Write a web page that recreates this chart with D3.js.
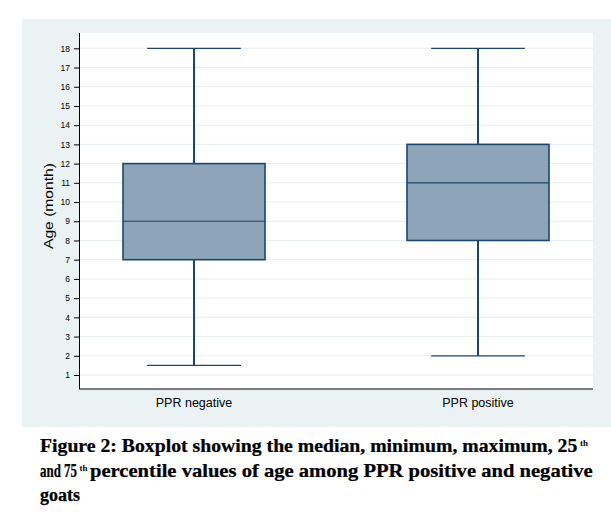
<!DOCTYPE html>
<html>
<head>
<meta charset="utf-8">
<script src="https://cdn.jsdelivr.net/npm/d3@7"></script>
<style>
  body { margin: 0; background: #fff; }
  svg { display: block; }
</style>
</head>
<body>
<div id="chart"></div>
<script>
// data
const groups = ["PPR negative", "PPR positive"];
const minVals = [1.5, 2];
const q1Vals = [7, 8];
const medianVals = [9, 11];
const q3Vals = [12, 13];
const maxVals = [18, 18];
const yTicks = [1, 2, 3, 4, 5, 6, 7, 8, 9, 10, 11, 12, 13, 14, 15, 16, 17, 18];

const W = 611, H = 518;
const frame = { left: 22, top: 19, right: 611, bottom: 427 };
const plot = { left: 79, top: 33, right: 593, bottom: 389 };

const svg = d3.select("#chart").append("svg")
    .attr("width", W)
    .attr("height", H);

// outer graph region
svg.append("rect")
    .attr("x", frame.left).attr("y", frame.top)
    .attr("width", frame.right - frame.left)
    .attr("height", frame.bottom - frame.top)
    .attr("fill", "#eaf2f3");

// plot region
svg.append("rect")
    .attr("x", plot.left).attr("y", plot.top)
    .attr("width", plot.right - plot.left)
    .attr("height", plot.bottom - plot.top)
    .attr("fill", "#fff");

const y = d3.scaleLinear()
    .domain([1, 18])
    .range([375, 48.3]);

const x = d3.scalePoint()
    .domain(groups)
    .range([plot.left, plot.right])
    .padding(0.405);

const step = x.step();
const boxW = step * 0.5;
const capW = step * 0.33;

// gridlines
svg.append("g")
    .selectAll("line")
    .data(yTicks)
    .join("line")
    .attr("x1", plot.left).attr("x2", plot.right)
    .attr("y1", d => y(d)).attr("y2", d => y(d))
    .attr("stroke", "#e6eeef")
    .attr("stroke-width", 1);

// y axis
const yAxis = svg.append("g")
    .attr("transform", `translate(${plot.left},0)`)
    .call(d3.axisLeft(y).tickValues(yTicks).tickSize(5).tickPadding(4).tickFormat(d3.format("d")));
yAxis.select(".domain").remove();
yAxis.selectAll(".tick line").attr("stroke", "#000");
yAxis.selectAll(".tick text")
    .attr("fill", "#000")
    .style("font-family", "'Liberation Sans', Arial, sans-serif")
    .style("font-size", "8.5px");

svg.append("line")
    .attr("x1", plot.left + 0.5).attr("x2", plot.left + 0.5)
    .attr("y1", plot.top).attr("y2", plot.bottom)
    .attr("stroke", "#000").attr("stroke-width", 1);

svg.append("line")
    .attr("x1", plot.left).attr("x2", plot.right)
    .attr("y1", plot.bottom).attr("y2", plot.bottom)
    .attr("stroke", "#000").attr("stroke-width", 1.2);

// y title
svg.append("text")
    .attr("transform", `translate(53,206) rotate(-90)`)
    .attr("text-anchor", "middle")
    .attr("textLength", 86)
    .attr("lengthAdjust", "spacingAndGlyphs")
    .style("font-family", "'Liberation Sans', Arial, sans-serif")
    .style("font-size", "13.5px")
    .attr("fill", "#000")
    .text("Age (month)");

// category labels
svg.append("g")
    .selectAll("text")
    .data(groups)
    .join("text")
    .attr("x", d => x(d))
    .attr("y", 407)
    .attr("text-anchor", "middle")
    .style("font-family", "'Liberation Sans', Arial, sans-serif")
    .style("font-size", "12.5px")
    .attr("fill", "#000")
    .text(d => d);

const stroke = "#1a476f";
const boxes = svg.append("g")
    .selectAll("g")
    .data(groups.map((g, i) => ({ g, min: minVals[i], q1: q1Vals[i], med: medianVals[i], q3: q3Vals[i], max: maxVals[i] })))
    .join("g");

// whiskers
boxes.append("line")
    .attr("x1", d => x(d.g)).attr("x2", d => x(d.g))
    .attr("y1", d => y(d.q3)).attr("y2", d => y(d.max))
    .attr("stroke", stroke).attr("stroke-width", 2);
boxes.append("line")
    .attr("x1", d => x(d.g)).attr("x2", d => x(d.g))
    .attr("y1", d => y(d.q1)).attr("y2", d => y(d.min))
    .attr("stroke", stroke).attr("stroke-width", 2);

// caps
boxes.append("line")
    .attr("x1", d => x(d.g) - capW / 2).attr("x2", d => x(d.g) + capW / 2)
    .attr("y1", d => y(d.max)).attr("y2", d => y(d.max))
    .attr("stroke", stroke).attr("stroke-width", 1.3);
boxes.append("line")
    .attr("x1", d => x(d.g) - capW / 2).attr("x2", d => x(d.g) + capW / 2)
    .attr("y1", d => y(d.min)).attr("y2", d => y(d.min))
    .attr("stroke", stroke).attr("stroke-width", 1.3);

// box
boxes.append("rect")
    .attr("x", d => x(d.g) - boxW / 2)
    .attr("y", d => y(d.q3))
    .attr("width", boxW)
    .attr("height", d => y(d.q1) - y(d.q3))
    .attr("fill", "#8ea4b8")
    .attr("stroke", stroke)
    .attr("stroke-width", 1.6);

// median
boxes.append("line")
    .attr("x1", d => x(d.g) - boxW / 2).attr("x2", d => x(d.g) + boxW / 2)
    .attr("y1", d => y(d.med)).attr("y2", d => y(d.med))
    .attr("stroke", stroke).attr("stroke-width", 1.2);

// caption, squeezed horizontally to the widths in the figure
const capFont = "'Liberation Serif', 'DejaVu Serif', serif";
const cap = svg.append("g")
    .attr("fill", "#000")
    .style("font-family", capFont)
    .style("font-weight", "bold");

const capParts = [
    { text: "Figure 2: Boxplot showing the median, minimum, maximum, 25", x: 40, y: 452, len: 538 },
    { text: "th", x: 580, y: 446, len: 8, sup: true },
    { text: "and 75", x: 40, y: 477, len: 37 },
    { text: "th", x: 79.5, y: 471, len: 8, sup: true },
    { text: "percentile values of age among PPR positive and negative", x: 90, y: 477, len: 503 },
    { text: "goats", x: 40, y: 501, len: 40 }
];

capParts.forEach(p => {
    const t = cap.append("text")
        .attr("x", 0).attr("y", 0)
        .attr("stroke", p.sup ? "none" : "#000")
        .attr("stroke-width", 0.25)
        .style("font-size", p.sup ? "9px" : "18px")
        .text(p.text);
    const natural = t.node().getComputedTextLength();
    t.attr("transform", `translate(${p.x},${p.y}) scale(${p.len / natural},1)`);
});
</script>
</body>
</html>
